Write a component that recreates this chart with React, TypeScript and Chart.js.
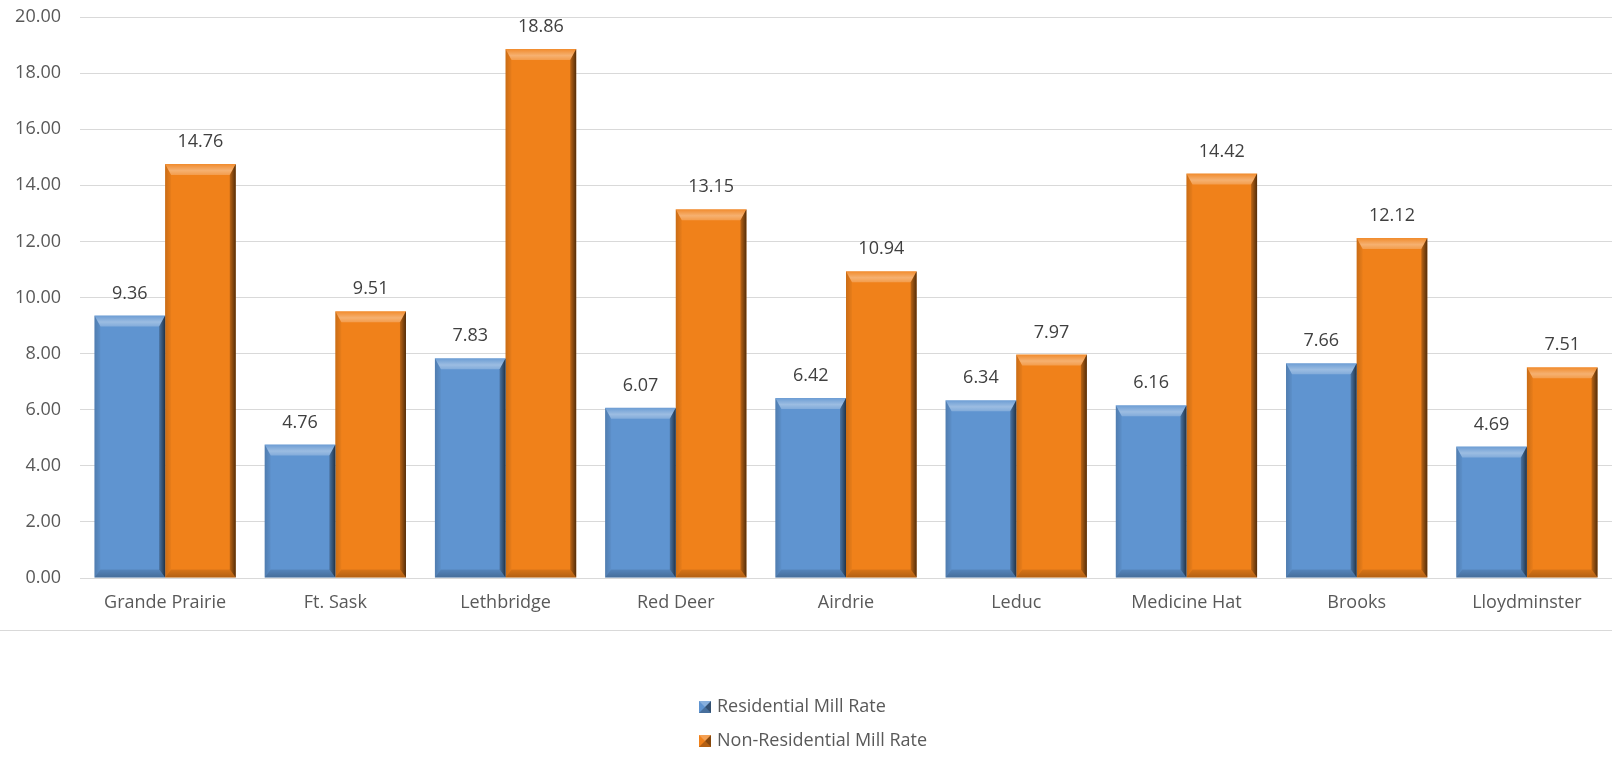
import React, { useEffect, useRef } from "react";
import { Chart, registerables } from "chart.js";

Chart.register(...registerables);

// Municipal mill rates by city
const cities = [
  "Grande Prairie",
  "Ft. Sask",
  "Lethbridge",
  "Red Deer",
  "Airdrie",
  "Leduc",
  "Medicine Hat",
  "Brooks",
  "Lloydminster",
];
const residentialRates = [9.36, 4.76, 7.83, 6.07, 6.42, 6.34, 6.16, 7.66, 4.69];
const nonResidentialRates = [14.76, 9.51, 18.86, 13.15, 10.94, 7.97, 14.42, 12.12, 7.51];
const seriesNames = ["Residential Mill Rate", "Non-Residential Mill Rate"];
const seriesColors = ["#5F94D0", "#F0811A"];

const FONT = "'Open Sans', 'Noto Sans', sans-serif";
const FONT_SIZE = 18;
const TEXT_GRAY = "#595959";
const LABEL_GRAY = "#404040";
const GRID_GRAY = "#D9D9D9";

// Bevelled faces on every bar: light top, shaded sides and bottom
const bevelPlugin = {
  id: "bevel",
  afterDatasetsDraw(chart: any) {
    const ctx = chart.ctx;
    chart.data.datasets.forEach((_: any, di: number) => {
      const meta = chart.getDatasetMeta(di);
      meta.data.forEach((bar: any) => {
        const { x, y, base, width } = bar.getProps(["x", "y", "base", "width"], true);
        const x0 = x - width / 2;
        const x1 = x + width / 2;
        const top = Math.min(y, base);
        const bottom = Math.max(y, base);
        const h = bottom - top;
        const s = Math.min(6, width / 4);
        const t = Math.min(11, h / 3);
        const b = Math.min(8, h / 4);
        ctx.save();

        // top face
        let g = ctx.createLinearGradient(0, top, 0, top + t);
        g.addColorStop(0, "rgba(255,255,255,0.08)");
        g.addColorStop(0.6, "rgba(255,255,255,0.38)");
        g.addColorStop(1, "rgba(255,255,255,0.22)");
        ctx.fillStyle = g;
        ctx.beginPath();
        ctx.moveTo(x0, top);
        ctx.lineTo(x1, top);
        ctx.lineTo(x1 - s, top + t);
        ctx.lineTo(x0 + s, top + t);
        ctx.closePath();
        ctx.fill();

        // left side
        g = ctx.createLinearGradient(x0, 0, x0 + s, 0);
        g.addColorStop(0, "rgba(0,0,0,0.16)");
        g.addColorStop(1, "rgba(0,0,0,0.03)");
        ctx.fillStyle = g;
        ctx.beginPath();
        ctx.moveTo(x0, top);
        ctx.lineTo(x0 + s, top + t);
        ctx.lineTo(x0 + s, bottom - b);
        ctx.lineTo(x0, bottom);
        ctx.closePath();
        ctx.fill();

        // right side
        g = ctx.createLinearGradient(x1 - s, 0, x1, 0);
        g.addColorStop(0, "rgba(0,0,0,0.22)");
        g.addColorStop(1, "rgba(0,0,0,0.65)");
        ctx.fillStyle = g;
        ctx.beginPath();
        ctx.moveTo(x1, top);
        ctx.lineTo(x1, bottom);
        ctx.lineTo(x1 - s, bottom - b);
        ctx.lineTo(x1 - s, top + t);
        ctx.closePath();
        ctx.fill();

        // bottom face
        g = ctx.createLinearGradient(0, bottom - b, 0, bottom);
        g.addColorStop(0, "rgba(0,0,0,0.10)");
        g.addColorStop(1, "rgba(0,0,0,0.26)");
        ctx.fillStyle = g;
        ctx.beginPath();
        ctx.moveTo(x0, bottom);
        ctx.lineTo(x0 + s, bottom - b);
        ctx.lineTo(x1 - s, bottom - b);
        ctx.lineTo(x1, bottom);
        ctx.closePath();
        ctx.fill();

        ctx.restore();
      });
    });
  },
};

// Value labels above each bar
const valueLabelPlugin = {
  id: "valueLabels",
  afterDatasetsDraw(chart: any) {
    const ctx = chart.ctx;
    ctx.save();
    ctx.font = `${FONT_SIZE}px ${FONT}`;
    ctx.fillStyle = LABEL_GRAY;
    ctx.textAlign = "center";
    ctx.textBaseline = "middle";
    chart.data.datasets.forEach((ds: any, di: number) => {
      const meta = chart.getDatasetMeta(di);
      meta.data.forEach((bar: any, i: number) => {
        const v = ds.data[i] as number;
        ctx.fillText(v.toFixed(2), bar.x, bar.y - 22);
      });
    });
    ctx.restore();
  },
};

// Separator under the category labels and a stacked legend below it
const legendPlugin = {
  id: "stackedLegend",
  afterDraw(chart: any) {
    const ctx = chart.ctx;
    ctx.save();
    ctx.strokeStyle = GRID_GRAY;
    ctx.lineWidth = 1;
    ctx.beginPath();
    ctx.moveTo(0, 630.5);
    ctx.lineTo(chart.width, 630.5);
    ctx.stroke();

    const left = 699;
    const rows = [707, 741];
    ctx.font = `${FONT_SIZE}px ${FONT}`;
    ctx.textBaseline = "middle";
    ctx.textAlign = "left";
    chart.data.datasets.forEach((ds: any, i: number) => {
      const cy = rows[i];
      const sz = 12;
      const mx = left;
      const my = cy - sz / 2;
      ctx.fillStyle = ds.backgroundColor;
      ctx.fillRect(mx, my, sz, sz);
      // pyramid shading on the marker
      ctx.fillStyle = "rgba(0,0,0,0.45)";
      ctx.beginPath();
      ctx.moveTo(mx + sz, my);
      ctx.lineTo(mx + sz, my + sz);
      ctx.lineTo(mx + sz / 2, my + sz / 2);
      ctx.closePath();
      ctx.fill();
      ctx.fillStyle = "rgba(0,0,0,0.25)";
      ctx.beginPath();
      ctx.moveTo(mx, my + sz);
      ctx.lineTo(mx + sz, my + sz);
      ctx.lineTo(mx + sz / 2, my + sz / 2);
      ctx.closePath();
      ctx.fill();
      ctx.fillStyle = "rgba(255,255,255,0.25)";
      ctx.beginPath();
      ctx.moveTo(mx, my);
      ctx.lineTo(mx + sz, my);
      ctx.lineTo(mx + sz / 2, my + sz / 2);
      ctx.closePath();
      ctx.fill();

      ctx.fillStyle = TEXT_GRAY;
      ctx.fillText(ds.label, left + 18, cy);
    });
    ctx.restore();
  },
};

export default function App() {
  const canvasRef = useRef<HTMLCanvasElement | null>(null);

  useEffect(() => {
    document.body.style.margin = "0";
    const canvas = canvasRef.current;
    if (!canvas) return;
    const chart = new Chart(canvas, {
      type: "bar",
      data: {
        labels: cities,
        datasets: [
          {
            label: seriesNames[0],
            data: residentialRates,
            backgroundColor: seriesColors[0],
            borderWidth: 0,
            categoryPercentage: 0.83,
            barPercentage: 1.0,
          },
          {
            label: seriesNames[1],
            data: nonResidentialRates,
            backgroundColor: seriesColors[1],
            borderWidth: 0,
            categoryPercentage: 0.83,
            barPercentage: 1.0,
          },
        ],
      },
      options: {
        responsive: false,
        animation: false,
        devicePixelRatio: 1,
        layout: { padding: { top: 17, right: 0, left: 0, bottom: 0 } },
        plugins: {
          legend: { display: false },
          tooltip: { enabled: false },
          title: { display: false },
        },
        scales: {
          x: {
            grid: { display: false, drawTicks: false },
            border: { display: false },
            ticks: {
              color: TEXT_GRAY,
              font: { family: FONT, size: FONT_SIZE },
              padding: 14,
              maxRotation: 0,
              autoSkip: false,
            },
            afterFit(scale: any) {
              scale.height = 180;
            },
          },
          y: {
            min: 0,
            max: 20,
            grid: { color: GRID_GRAY, lineWidth: 1, drawTicks: false },
            border: { display: false },
            ticks: {
              stepSize: 2,
              color: TEXT_GRAY,
              font: { family: FONT, size: FONT_SIZE },
              padding: 19,
              callback: (v: any) => Number(v).toFixed(2),
            },
            afterFit(scale: any) {
              scale.width = 80;
              scale.paddingTop = 0;
              scale.paddingBottom = 0;
            },
          },
        },
      },
      plugins: [bevelPlugin, valueLabelPlugin, legendPlugin],
    });
    return () => chart.destroy();
  }, []);

  return (
    <div style={{ position: "absolute", left: 0, top: 0, width: 1612, height: 758, background: "#fff" }}>
      <canvas ref={canvasRef} width={1612} height={758} />
    </div>
  );
}
